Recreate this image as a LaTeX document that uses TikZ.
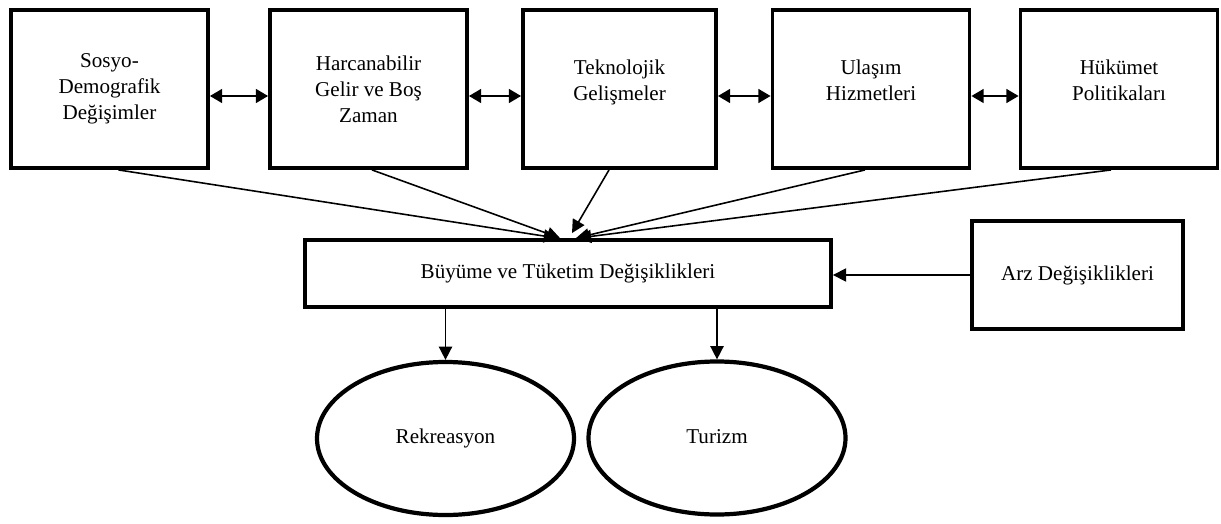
\documentclass[tikz,border=0pt]{standalone}
\usepackage{fontspec}
\setmainfont{Liberation Serif}
\usepackage{tikz}
\usetikzlibrary{arrows.meta,shapes.geometric}
\tikzstyle{topbox}=[draw, line width=2.2pt, minimum width=3.94cm, minimum height=3.16cm, align=center, font=\fontsize{12}{14.8}\selectfont]
\tikzstyle{midbox}=[draw, line width=2.2pt, minimum width=10.52cm, minimum height=1.34cm, font=\fontsize{12}{14.8}\selectfont]
\tikzstyle{sidebox}=[draw, line width=2.2pt, minimum width=4.22cm, minimum height=2.16cm, font=\fontsize{12}{14.8}\selectfont]
\tikzstyle{oval}=[ellipse, draw, line width=2.4pt, minimum width=5.14cm, minimum height=3.06cm, inner sep=0pt, font=\fontsize{12}{14.8}\selectfont]
\tikzstyle{link}=[line width=0.9pt, -{Triangle[length=7.5pt,width=7.5pt]}]
\tikzstyle{both}=[line width=0.9pt, {Triangle[length=7pt,width=8pt]}-{Triangle[length=7pt,width=8pt]}]

\begin{document}
\begin{tikzpicture}
	\useasboundingbox (0,0) rectangle (24.42,-10.48);
	\begin{scope}
		\node (1) at (2.19, -1.78) [topbox] {Sosyo-\\Demografik\\Değişimler};
		\node (2) at (7.37, -1.78) [topbox] {Harcanabilir\\Gelir ve Boş\\Zaman};
		\node (3) at (12.39, -1.78) [topbox, minimum width=3.86cm] {Teknolojik\\Gelişmeler\\[-5pt]\mbox{}};
		\node (4) at (17.42, -1.78) [topbox] {Ulaşım\\Hizmetleri\\[-5pt]\mbox{}};
		\node (5) at (22.38, -1.78) [topbox] {Hükümet\\Politikaları\\[-5pt]\mbox{}};

		\node (6) at (11.36, -5.47) [midbox] {Büyüme ve Tüketim Değişiklikleri};
		\node (7) at (21.55, -5.5) [sidebox] {Arz Değişiklikleri};

		\node (8) at (8.91, -8.77) [oval] {\raisebox{-3pt}{Rekreasyon}};
		\node (9) at (14.34, -8.76) [oval] {\raisebox{2pt}{Turizm}};
	\end{scope}
	\begin{scope}
		\path [both] ([yshift=-0.14cm]1.east) edge ([yshift=-0.14cm]2.west);
		\path [both] ([yshift=-0.14cm]2.east) edge ([yshift=-0.14cm]3.west);
		\path [both] ([yshift=-0.14cm]3.east) edge ([yshift=-0.14cm]4.west);
		\path [both] ([yshift=-0.14cm]4.east) edge ([yshift=-0.14cm]5.west);

		\path [link] ([xshift=0.18cm]1.south) edge ([xshift=-0.22cm]6.north);
		\path [link] ([xshift=0.07cm]2.south) edge ([xshift=-0.16cm]6.north);
		\path [link] ([xshift=-0.21cm]3.south) edge ([xshift=0.08cm, yshift=0.1cm]6.north);
		\path [link] ([xshift=-0.12cm]4.south) edge ([xshift=0.16cm]6.north);
		\path [link] ([xshift=-0.16cm]5.south) edge ([xshift=0.2cm]6.north);

		\path [link] (7.west) edge (7.west -| 6.east);
		\path [link] (6.south -| 8.north) edge (8.north);
		\path [link] (6.south -| 9.north) edge (9.north);
	\end{scope}
\end{tikzpicture}
\end{document}
